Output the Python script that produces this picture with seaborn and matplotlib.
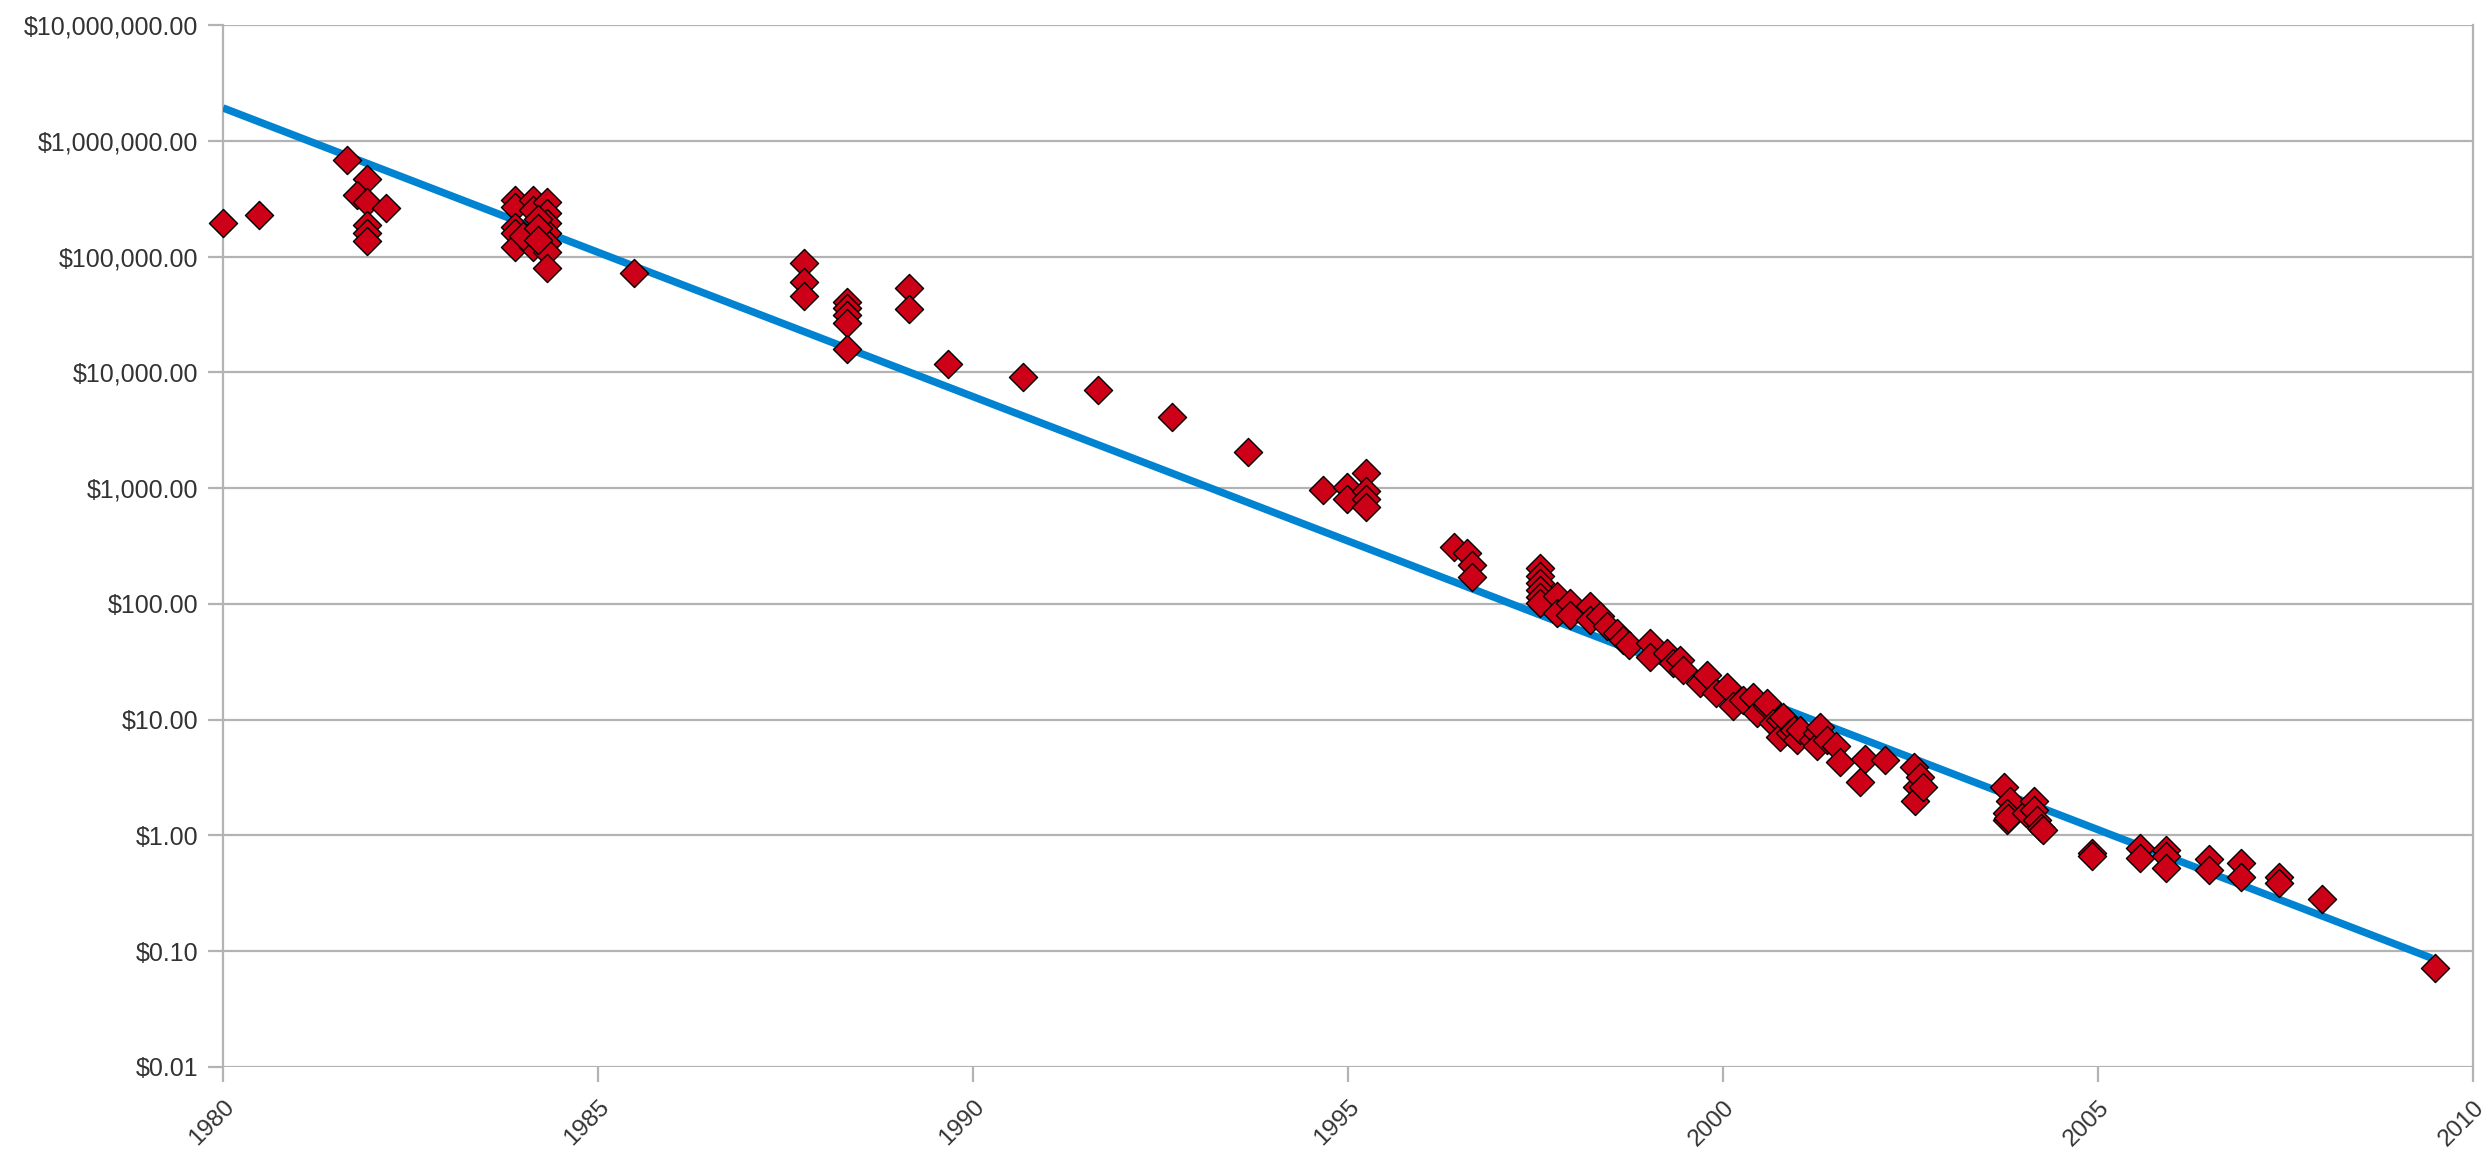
import numpy as np
import pandas as pd
import matplotlib
matplotlib.use("Agg")
import matplotlib.pyplot as plt
import seaborn as sns
from matplotlib.ticker import FixedLocator, FuncFormatter, NullLocator

# ---- data ----
years = [
    1980.00, 1980.48,
    1981.65, 1981.92, 1981.78, 1981.92, 1982.17, 1981.92, 1981.92, 1981.92,
    1983.89, 1983.89, 1983.89, 1983.89, 1983.89,
    1984.13, 1984.13, 1984.13, 1984.13,
    1984.32, 1984.32, 1984.32, 1984.32, 1984.32, 1984.32, 1984.32,
    1984.00, 1984.20, 1984.20, 1984.20,
    1985.48,
    1987.74, 1987.74, 1987.74,
    1988.32, 1988.32, 1988.32, 1988.32, 1988.32,
    1989.15, 1989.15,
    1989.66, 1990.66, 1991.66, 1992.65, 1993.66,
    1994.66, 1994.98, 1994.98, 1995.24, 1995.24, 1995.24, 1995.24,
    1996.41, 1996.59, 1996.65, 1996.65,
    1997.56, 1997.56, 1997.56, 1997.56, 1997.56, 1997.56,
    1997.78, 1997.78, 1997.96, 1997.96, 1998.23, 1998.23,
    1998.36, 1998.45, 1998.58, 1998.67, 1998.74,
    1999.03, 1999.03, 1999.25, 1999.33, 1999.43, 1999.47,
    1999.69, 1999.78, 1999.91, 2000.05, 2000.13, 2000.27, 2000.40, 2000.45,
    2000.58, 2000.58, 2000.67, 2000.76, 2000.76, 2000.80, 2000.89, 2000.94,
    2000.99, 2001.03, 2001.20, 2001.25, 2001.25, 2001.29, 2001.38, 2001.51,
    2001.56, 2001.83, 2001.89, 2002.16,
    2002.54, 2002.58, 2002.56, 2002.63, 2002.67,
    2003.74, 2003.83, 2003.78, 2003.78, 2003.80,
    2004.04, 2004.14, 2004.14, 2004.18, 2004.24, 2004.27,
    2004.92, 2004.92, 2005.56, 2005.56, 2005.91, 2005.91, 2005.91,
    2006.48, 2006.48, 2006.91, 2006.91, 2007.41, 2007.41, 2007.98,
    2009.49,
]
prices = [
    196e3, 229e3,
    682e3, 468e3, 340e3, 298e3, 264e3, 187e3, 159e3, 135e3,
    308e3, 270e3, 181e3, 159e3, 122e3,
    308e3, 252e3, 159e3, 122e3,
    298e3, 237e3, 194e3, 159e3, 130e3, 110e3, 79e3,
    150e3, 210e3, 175e3, 140e3,
    72.6e3,
    87.5e3, 60.7e3, 45.7e3,
    40.8e3, 35.8e3, 31.3e3, 26.6e3, 15.9e3,
    53.2e3, 35.3e3,
    11.8e3, 9.2e3, 7.1e3, 4.1e3, 2.03e3,
    960, 1020, 800, 1350, 950, 800, 680,
    309, 274, 217, 172,
    205, 175, 150, 132, 115, 102,
    116, 83, 102, 80, 95, 73,
    78, 64, 56, 49, 44,
    46, 35, 37.5, 30.8, 32.8, 27,
    20.6, 24.4, 16.9, 19.3, 13.0, 14.8, 15.8, 11.4,
    13.0, 13.9, 9.3, 10.0, 7.1, 10.6, 7.7, 8.2,
    6.7, 8.2, 6.7, 7.7, 5.9, 8.7, 6.7, 5.9,
    4.3, 2.9, 4.6, 4.5,
    3.9, 2.6, 2.0, 3.2, 2.6,
    2.64, 2.0, 1.56, 1.36, 1.42,
    1.56, 2.0, 1.66, 1.36, 1.16, 1.12,
    0.71, 0.66, 0.78, 0.64, 0.75, 0.66, 0.52,
    0.62, 0.50, 0.58, 0.44, 0.44, 0.39, 0.28,
    0.072,
]
trend_years = [1980.0, 2009.45]
trend_prices = [1.92e6, 0.087]

x_ticks = [1980, 1985, 1990, 1995, 2000, 2005, 2010]
y_ticks = [0.01, 0.1, 1, 10, 100, 1e3, 1e4, 1e5, 1e6, 1e7]

# ---- style ----
sns.set_theme(style="white")
plt.rcParams["font.family"] = ["Liberation Sans", "DejaVu Sans"]

GRID = "#b3b3b3"
fig, ax = plt.subplots(figsize=(24.84, 11.56), dpi=100)
fig.subplots_adjust(left=0.0898, right=0.9956, top=0.9784, bottom=0.0770)

pts = pd.DataFrame({"year": years, "price": prices})
trend = pd.DataFrame({"year": trend_years, "price": trend_prices})

sns.lineplot(data=trend, x="year", y="price", ax=ax, color="#0084d1",
             linewidth=5.4, zorder=3, solid_capstyle="butt")
sns.scatterplot(data=pts, x="year", y="price", ax=ax, marker="D", s=205,
                color="#cc0016", edgecolor="black", linewidth=1.0, zorder=4,
                clip_on=False)

ax.set_yscale("log")
ax.set_xlim(1980, 2010)
ax.set_ylim(0.01, 1e7)

ax.yaxis.set_major_locator(FixedLocator(y_ticks))
ax.yaxis.set_minor_locator(NullLocator())
ax.yaxis.set_major_formatter(FuncFormatter(lambda v, p: f"${v:,.2f}"))
ax.set_xticks(x_ticks)
ax.set_xticklabels([str(t) for t in x_ticks], rotation=45, ha="right",
                   rotation_mode="anchor")

ax.grid(axis="y", color=GRID, linewidth=1.6, zorder=0)
ax.grid(axis="x", visible=False)
ax.set_axisbelow(True)
for side in ["left", "right", "top", "bottom"]:
    ax.spines[side].set_color(GRID)
    ax.spines[side].set_linewidth(1.6)
ax.spines["top"].set_visible(False)
ax.spines["bottom"].set_visible(False)

ax.tick_params(axis="y", which="major", length=11, width=1.6, color=GRID,
               pad=7, labelsize=18, labelcolor="#333333", left=True)
ax.tick_params(axis="x", which="major", length=11, width=1.6, color=GRID,
               pad=10, labelsize=17.5, labelcolor="#333333", bottom=True)

ax.set_xlabel("")
ax.set_ylabel("")
if ax.get_legend() is not None:
    ax.get_legend().remove()

fig.savefig("out.png", dpi=100, facecolor="white")
